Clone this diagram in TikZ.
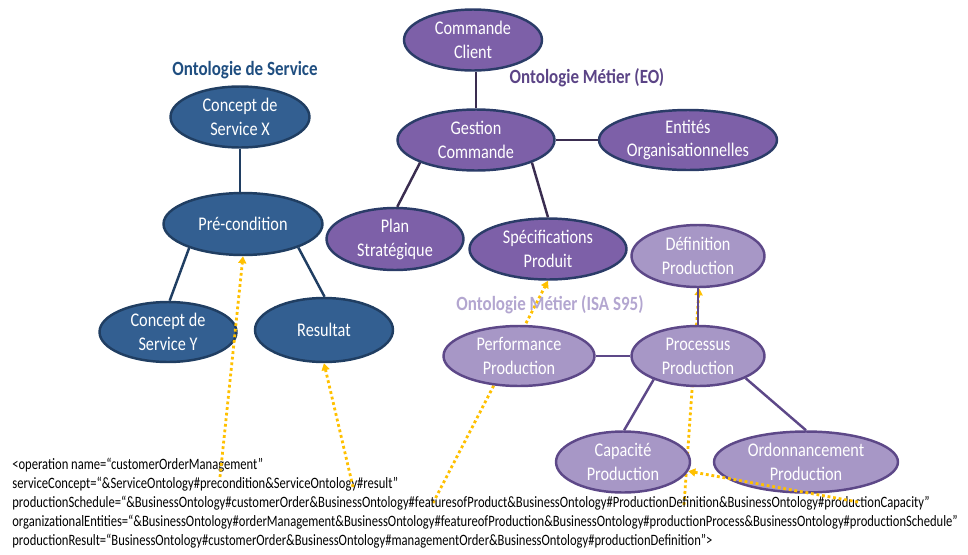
\documentclass[tikz,border=0pt]{standalone}
\usepackage{fontspec}
\setmainfont{Carlito}[FakeStretch=0.84]
\newfontfamily\codefont{Carlito}[FakeStretch=0.795]
\usepackage{tikz}
\usetikzlibrary{arrows.meta,shapes.geometric,backgrounds}
\definecolor{SvcFill}{HTML}{335F91}
\definecolor{SvcLine}{HTML}{203E62}
\definecolor{SvcTitle}{HTML}{1F4E80}
\definecolor{EOFill}{HTML}{7D60A8}
\definecolor{EOLine}{HTML}{2B3C68}
\definecolor{EOEdge}{HTML}{3A2D50}
\definecolor{EOTitle}{HTML}{5B4486}
\definecolor{ISAFill}{HTML}{A797C6}
\definecolor{ISALine}{HTML}{5D4888}
\definecolor{ISATitle}{HTML}{B3A6D0}
\definecolor{Dots}{HTML}{FFC000}

\begin{document}
\begin{tikzpicture}[x=0.02cm, y=-0.02cm,
  onode/.style={ellipse, inner sep=0pt, line width=1.4pt, align=center,
                text=white, font=\fontsize{11}{13.6}\selectfont},
  svc/.style={onode, fill=SvcFill, draw=SvcLine},
  eo/.style={onode, fill=EOFill, draw=EOLine},
  isa/.style={onode, fill=ISAFill, draw=ISALine},
  title/.style={font=\fontsize{11.5}{14}\selectfont\bfseries},
  link/.style={line width=1.4pt},
  ref/.style={line width=1.6pt, color=Dots, dash pattern=on 1.6pt off 1.6pt,
              -{Triangle[length=4pt, width=4.5pt]}}
]
  \useasboundingbox (0,0) rectangle (968,555);

  % Ontologie de Service
  \node[title, text=SvcTitle] (tsvc) at (245,70) {Ontologie de Service};
  \node[svc, minimum width=2.78cm, minimum height=1.22cm] (cx) at (240,117) {Concept de\\Service X};
  \node[svc, minimum width=3.18cm, minimum height=1.24cm] (pre) at (243,224) {Pré-condition};
  \node[svc, minimum width=2.74cm, minimum height=1.2cm] (cy) at (168,332) {Concept de\\Service Y};
  \node[svc, minimum width=2.76cm, minimum height=1.28cm] (res) at (324,330) {Resultat};
  \draw[link, SvcLine] (cx.south) -- (cx.south |- pre.north);
  \draw[link, SvcLine] (pre.204) -- (cy.87);
  \draw[link, SvcLine] (pre.-23) -- (res.89);

  % Ontologie Metier (EO)
  \node[title, text=EOTitle] (teo) at (587,78) {Ontologie Métier (EO)};
  \node[eo, minimum width=2.76cm, minimum height=1.22cm] (cc) at (473,40) {Commande\\Client};
  \node[eo, minimum width=3.14cm, minimum height=1.22cm] (gc) at (476,140) {Gestion\\Commande};
  \node[eo, minimum width=3.56cm, minimum height=1.2cm] (ent) at (688,140) {Entités\\Organisationnelles};
  \node[eo, minimum width=2.74cm, minimum height=1.24cm] (plan) at (395,239) {Plan\\Stratégique};
  \node[eo, minimum width=3.14cm, minimum height=1.22cm] (spec) at (548,249) {Spécifications\\Produit};
  \draw[link, EOEdge] (gc.north) -- (gc.north |- cc.south);
  \draw[link, EOEdge] (gc.east) -- (ent.west);
  \draw[link, EOEdge] (gc.202) -- (plan.86);
  \draw[link, EOEdge] (gc.-22) -- (spec.90);

  % Ontologie Metier (ISA S95)
  \node[title, text=ISATitle] (tisa) at (550,305) {Ontologie Métier (ISA S95)};
  \node[isa, minimum width=2.66cm, minimum height=1.24cm] (def) at (698,256) {Définition\\Production};
  \node[isa, minimum width=3.02cm, minimum height=1.2cm] (perf) at (519,356) {Performance\\Production};
  \node[isa, minimum width=2.66cm, minimum height=1.2cm] (proc) at (698,356) {Processus\\Production};
  \node[isa, minimum width=2.68cm, minimum height=1.22cm] (cap) at (623,462) {Capacité\\Production};
  \node[isa, minimum width=3.68cm, minimum height=1.22cm] (ordo) at (806,462) {Ordonnancement\\Production};
  \draw[link, ISALine] (def.south) -- (proc.north);
  \draw[link, ISALine] (perf.east) -- (proc.west);
  \draw[link, ISALine] (proc.208) -- (cap.88);
  \draw[link, ISALine] (proc.-25) -- (ordo.90);

  % operation
  \node[anchor=north west, align=left, inner sep=0pt,
        font=\codefont\fontsize{9}{10.8}\selectfont] (op) at (12,458)
    {<operation name=“customerOrderManagement”\\
     serviceConcept=“\&ServiceOntology\#precondition\&ServiceOntology\#result”\\
     productionSchedule=“\&BusinessOntology\#customerOrder\&BusinessOntology\#featuresofProduct\&BusinessOntology\#ProductionDefinition\&BusinessOntology\#productionCapacity”\\
     organizationalEntities=“\&BusinessOntology\#orderManagement\&BusinessOntology\#featureofProduction\&BusinessOntology\#productionProcess\&BusinessOntology\#productionSchedule”\\
     productionResult=“BusinessOntology\#customerOrder\&BusinessOntology\#managementOrder\&BusinessOntology\#productionDefinition”>};

  \coordinate (r1) at (220,477);
  \coordinate (r2) at (353,487);
  \coordinate (r3) at (433,503);
  \coordinate (r4) at (684,505);
  \coordinate (r5) at (858,502);
  \draw[ref] (r1) -- (pre.south);
  \draw[ref] (r2) -- (res.south);
  \draw[ref] (r5) -- (cap.-8);
  \begin{scope}[on background layer]
    \draw[ref] (r3) -- (spec.south);
    \draw[ref] (r4) -- (def.-88);
  \end{scope}
\end{tikzpicture}
\end{document}
